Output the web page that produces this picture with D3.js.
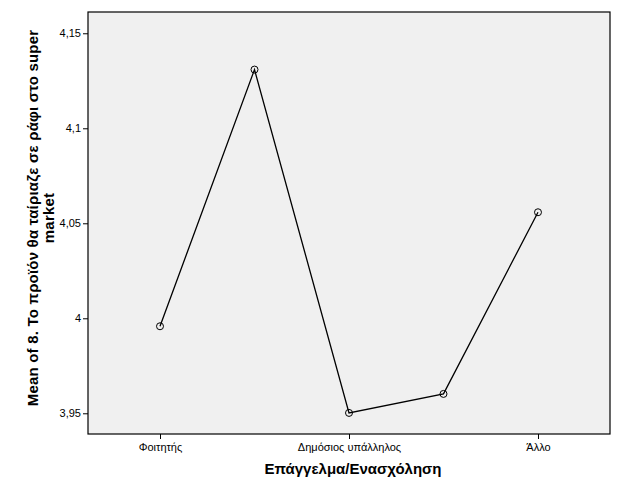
<!DOCTYPE html>
<html><head><meta charset="utf-8">
<script src="https://cdn.jsdelivr.net/npm/d3@7"></script>
<style>body{margin:0;background:#fff}svg{display:block}text{font-family:"Liberation Sans",Arial,sans-serif}</style>
</head><body><svg id="c" width="625" height="500"></svg>
<script>
const categories = ["Φοιτητής","Ιδιωτικός υπάλληλος","Δημόσιος υπάλληλος","Ελεύθερος επαγγελματίας","Άλλο"];
const shownLabels = ["Φοιτητής","Δημόσιος υπάλληλος","Άλλο"];
const means = [3.9958, 4.1309, 3.9502, 3.9602, 4.0558];
const yTicks = [3.95, 4.0, 4.05, 4.1, 4.15];
const yTickLabels = ["3,95","4","4,05","4,1","4,15"];
const xTitle = "Επάγγελμα/Ενασχόληση";
const yTitle = ["Mean of 8. Το προϊόν θα ταίριαζε σε ράφι στο super","market"];

const svg = d3.select("#c");
const L = 88, R = 610, T = 12, B = 434;
const x = d3.scalePoint().domain(categories).range([L, R]).padding(0.762);
const y = d3.scaleLinear().domain([3.9391, 4.1612]).range([B, T]);

svg.append("rect").attr("x", L).attr("y", T).attr("width", R - L).attr("height", B - T)
  .attr("fill", "#f0f0f0").attr("stroke", "none");

const ya = svg.append("g").attr("transform", `translate(${L},0)`)
  .call(d3.axisLeft(y).tickValues(yTicks).tickSize(5).tickPadding(2)
    .tickFormat((d, i) => yTickLabels[i]));
ya.select(".domain").remove();
ya.selectAll("text").attr("font-size", 11).attr("fill", "#000").style("font-family", '"Liberation Sans",Arial,sans-serif');
ya.selectAll("line").attr("stroke", "#000");

const xa = svg.append("g").attr("transform", `translate(0,${B})`)
  .call(d3.axisBottom(x).tickValues(shownLabels).tickSize(5).tickPadding(4));
xa.select(".domain").remove();
xa.selectAll("text").attr("font-size", 11).attr("fill", "#000").style("font-family", '"Liberation Sans",Arial,sans-serif');
xa.selectAll("line").attr("stroke", "#000");

const line = d3.line().x((d, i) => x(categories[i])).y(d => y(d));
svg.append("path").datum(means).attr("d", line).attr("fill", "none")
  .attr("stroke", "#000").attr("stroke-width", 1.3);
svg.selectAll("circle.m").data(means).join("circle").attr("class", "m")
  .attr("cx", (d, i) => x(categories[i])).attr("cy", d => y(d)).attr("r", 3.5)
  .attr("fill", "none").attr("stroke", "#000").attr("stroke-width", 1);

svg.append("rect").attr("x", L).attr("y", T).attr("width", R - L).attr("height", B - T)
  .attr("fill", "none").attr("stroke", "#000").attr("stroke-width", 1.2);

svg.append("text").attr("x", 353).attr("y", 474).attr("text-anchor", "middle")
  .attr("font-size", 15).attr("font-weight", "bold").text(xTitle);

const yt = svg.append("text").attr("transform", `translate(0,218) rotate(-90)`)
  .attr("text-anchor", "middle").attr("font-size", 15).attr("font-weight", "bold")
  .attr("letter-spacing", 0.2);
yt.append("tspan").attr("x", 0).attr("y", 38).text(yTitle[0]);
yt.append("tspan").attr("x", 0).attr("y", 54).text(yTitle[1]);
</script></body></html>
